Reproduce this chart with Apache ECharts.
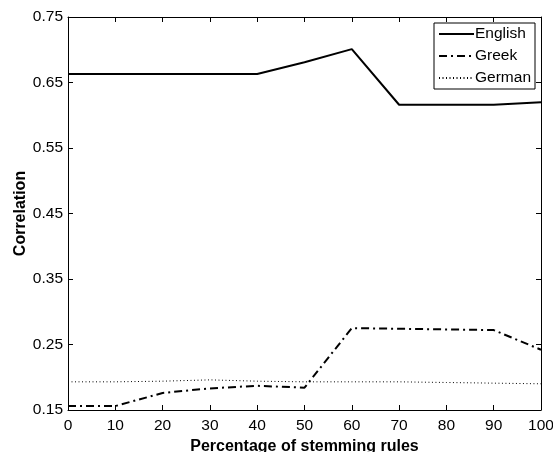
<!DOCTYPE html>
<html><head><meta charset="utf-8">
<script src="https://cdn.jsdelivr.net/npm/echarts@6/dist/echarts.min.js"></script>
<style>html,body{margin:0;padding:0;background:#fff}#c{width:553px;height:452px}</style>
</head><body><div id="c"></div>
<script>
const xValues = [0,10,20,30,40,50,60,70,80,90,100];
const english = [0.663,0.663,0.663,0.663,0.663,0.681,0.701,0.616,0.616,0.616,0.620];
const greek   = [0.156,0.156,0.176,0.183,0.187,0.184,0.275,0.274,0.273,0.272,0.242];
const german  = [0.193,0.193,0.194,0.196,0.194,0.193,0.193,0.193,0.192,0.191,0.190];
const yTickStart = 0.15, yTickStep = 0.1, yTickEnd = 0.75;
const xTickStart = 0, xTickStep = 10, xTickEnd = 100;
const FONT = '"Liberation Sans", Arial, Helvetica, sans-serif';
const pairs = a => xValues.map((x,i)=>[x,a[i]]);
const chart = echarts.init(document.getElementById('c'), null, {renderer:'canvas'});
const axLine = {show:true, onZero:false, lineStyle:{color:'#000', width:1}};
const tick = {show:true, inside:true, length:5, lineStyle:{color:'#000', width:1}};
chart.setOption({
  animation:false,
  backgroundColor:'#fff',
  grid:{left:68, right:12, top:17, bottom:42, containLabel:false, outerBoundsMode:'none'},
  legend:{
    orient:'vertical', right:18, top:23,
    backgroundColor:'#fff', borderColor:'#000', borderWidth:1,
    padding:[3,4,3,4], itemGap:6, itemWidth:35, itemHeight:14,
    itemStyle:{color:'transparent', borderWidth:0, opacity:0},
    textStyle:{fontFamily:FONT, fontSize:15.5, color:'#000', padding:[0,0,0,-4]},
    data:['English','Greek','German']
  },
  xAxis:[{
    type:'value', min:xTickStart, max:xTickEnd, interval:xTickStep, position:'bottom',
    name:'Percentage of stemming rules', nameLocation:'middle', nameGap:29, nameMoveOverlap:false,
    nameTextStyle:{fontFamily:FONT, fontSize:16, fontWeight:'bold', color:'#000'},
    axisLine:axLine, splitLine:{show:false}, axisTick:tick,
    axisLabel:{fontFamily:FONT, fontSize:15.5, color:'#000', margin:8}
  },{
    type:'value', min:xTickStart, max:xTickEnd, interval:xTickStep, position:'top',
    axisLine:axLine, splitLine:{show:false}, axisTick:tick,
    axisLabel:{show:false}
  }],
  yAxis:[{
    type:'value', min:yTickStart, max:yTickEnd, interval:yTickStep, position:'left',
    name:'Correlation', nameLocation:'middle', nameGap:39, nameMoveOverlap:false,
    nameTextStyle:{fontFamily:FONT, fontSize:16, fontWeight:'bold', color:'#000'},
    axisLine:axLine, splitLine:{show:false}, axisTick:tick,
    axisLabel:{fontFamily:FONT, fontSize:15.5, color:'#000', margin:5,
      formatter:v=>v.toFixed(2)}
  },{
    type:'value', min:yTickStart, max:yTickEnd, interval:yTickStep, position:'right',
    axisLine:axLine, splitLine:{show:false}, axisTick:tick,
    axisLabel:{show:false}
  }],
  series:[
    {name:'English', type:'line', data:pairs(english), symbol:'none', showSymbol:false,
      lineStyle:{color:'#000', width:2, type:'solid'}, itemStyle:{color:'#000'}},
    {name:'Greek', type:'line', data:pairs(greek), symbol:'none', showSymbol:false,
      lineStyle:{color:'#000', width:2, type:[8,4,2,4]}, itemStyle:{color:'#000'}},
    {name:'German', type:'line', data:pairs(german), symbol:'none', showSymbol:false,
      lineStyle:{color:'#000', width:1, type:[1,2.5]}, itemStyle:{color:'#000'}}
  ]
});
</script></body></html>
